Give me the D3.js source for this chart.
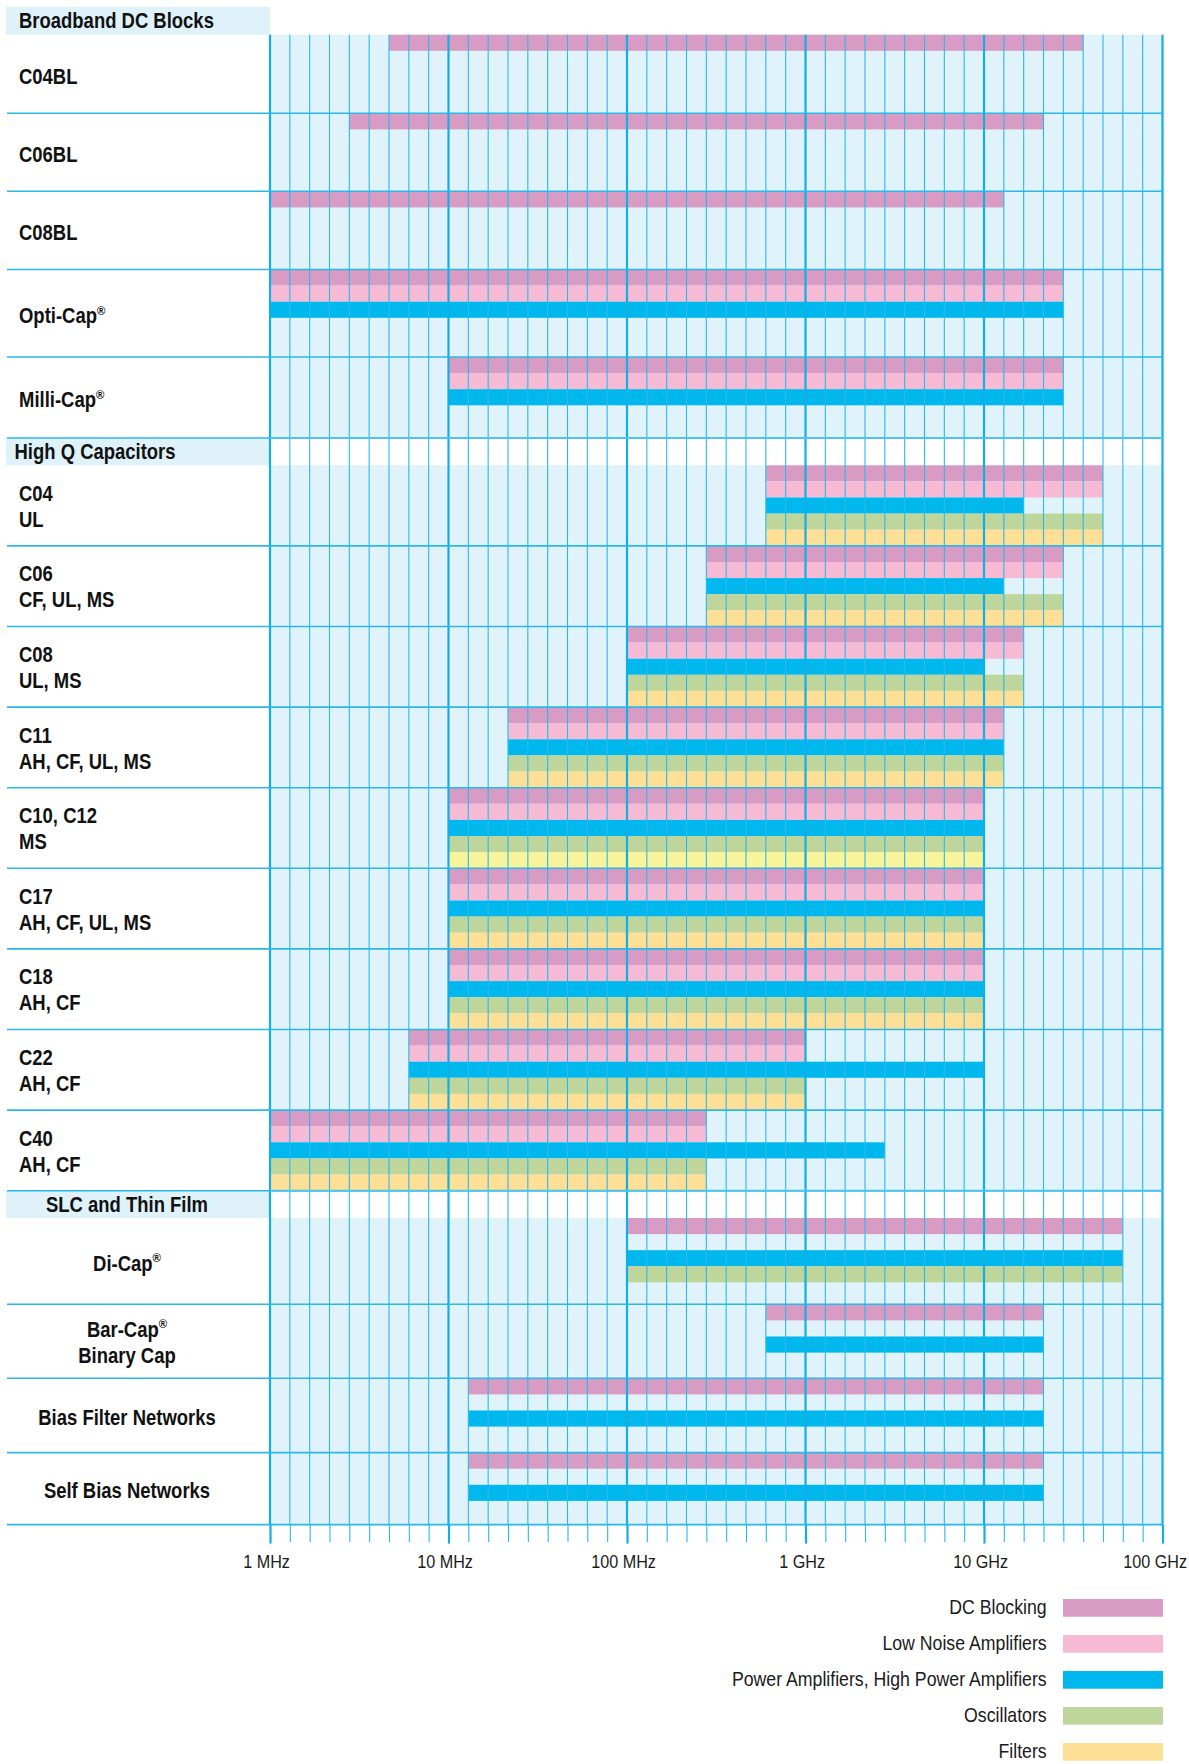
<!DOCTYPE html>
<html><head><meta charset="utf-8">
<script src="https://cdn.jsdelivr.net/npm/d3@7"></script>
<style>
body{margin:0;background:#fff;}
svg{display:block;}
text{font-family:"Liberation Sans","Arimo",Arial,sans-serif;}
</style></head><body>
<svg id="chart" width="1189" height="1764"></svg>
<script>
// ---------------- DATA ----------------
const sections = ["Broadband DC Blocks", "High Q Capacitors", "SLC and Thin Film"];
const products = [
  "C04BL", "C06BL", "C08BL", "Opti-Cap®", "Milli-Cap®",
  "C04\nUL", "C06\nCF, UL, MS", "C08\nUL, MS", "C11\nAH, CF, UL, MS", "C10, C12\nMS",
  "C17\nAH, CF, UL, MS", "C18\nAH, CF", "C22\nAH, CF", "C40\nAH, CF",
  "Di-Cap®", "Bar-Cap®\nBinary Cap", "Bias Filter Networks", "Self Bias Networks"
];
const productSection = [0,0,0,0,0, 1,1,1,1,1,1,1,1,1, 2,2,2,2];
const applications = ["DC Blocking", "Low Noise Amplifiers", "Power Amplifiers, High Power Amplifiers", "Oscillators", "Filters"];
const appColors = ["#d89cc4", "#f6bad4", "#00b8ed", "#bed69c", "#fedf96"];
// frequency ranges in MHz [from, to]; null = not listed
const dcBlocking  = [[7,60000],[5,40000],[1,20000],[1,50000],[10,50000],
  [800,70000],[500,50000],[100,30000],[40,20000],[10,10000],[10,10000],[10,10000],[8,1000],[1,500],
  [100,80000],[800,40000],[20,40000],[20,40000]];
const lowNoise    = [null,null,null,[1,50000],[10,50000],
  [800,70000],[500,50000],[100,30000],[40,20000],[10,10000],[10,10000],[10,10000],[8,1000],[1,500],
  null,null,null,null];
const powerAmp    = [null,null,null,[1,50000],[10,50000],
  [800,30000],[500,20000],[100,10000],[40,20000],[10,10000],[10,10000],[10,10000],[8,10000],[1,5000],
  [100,80000],[800,40000],[20,40000],[20,40000]];
const oscillators = [null,null,null,null,null,
  [800,70000],[500,50000],[100,30000],[40,20000],[10,10000],[10,10000],[10,10000],[8,1000],[1,500],
  [100,80000],null,null,null];
const filters     = [null,null,null,null,null,
  [800,70000],[500,50000],[100,30000],[40,20000],[10,10000],[10,10000],[10,10000],[8,1000],[1,500],
  null,null,null,null];
const filterAltProducts = ["C10, C12\nMS"];
const filterAltColor = "#f7f49b";
const tickValuesMHz = [1, 10, 100, 1000, 10000, 100000];
const tickLabels = ["1 MHz", "10 MHz", "100 MHz", "1 GHz", "10 GHz", "100 GHz"];

// ---------------- LAYOUT ----------------
const plotLeft = 270, plotRight = 1162.5, labelLeft = 7;
const topY = 6.7;
const headerHeights = [28, 27.3, 27.3];
const rowHeights = [78.6, 78, 78.2, 87.5, 81,
  80.6, 80.6, 80.6, 80.6, 80.6, 80.6, 80.6, 80.6, 80.6,
  86.3, 74, 74.3, 72];
const slotH = 16.1;
const gridMinor = "#2ab9ea", gridMajor = "#12aee4";
const boldScale = 0.84, legendScale = 0.886, axisScale = 0.87;

const svg = d3.select("#chart");

// x: linear within each decade (as in the reference grid)
const x = d3.scaleLinear()
  .domain(tickValuesMHz)
  .range(tickValuesMHz.map((d, i) => plotLeft + i * (plotRight - plotLeft) / (tickValuesMHz.length - 1)));

// build row layout
const headers = [], rows = [];
let y = topY;
sections.forEach((s, si) => {
  headers.push({name: s, si, y0: y, y1: y + headerHeights[si]});
  y += headerHeights[si];
  products.forEach((p, pi) => {
    if (productSection[pi] !== si) return;
    rows.push({name: p, pi, si, y0: y, y1: y + rowHeights[pi]});
    y += rowHeights[pi];
  });
});
const plotTop = headers[0].y1, plotBottom = y;

// bars
const series = [dcBlocking, lowNoise, powerAmp, oscillators, filters];
const bars = [];
series.forEach((arr, ai) => arr.forEach((r, pi) => {
  if (!r) return;
  const row = rows.find(d => d.pi === pi);
  let color = appColors[ai];
  if (ai === 4 && filterAltProducts.includes(products[pi])) color = filterAltColor;
  bars.push({ai, pi, from: r[0], to: r[1], y: row.y0 + ai * slotH, color});
}));

// header boxes in the label column
svg.append("g").selectAll("rect").data(headers).join("rect")
  .attr("x", labelLeft - 1).attr("y", d => d.y0)
  .attr("width", plotLeft - labelLeft + 1).attr("height", d => d.y1 - d.y0)
  .attr("fill", "#dff2fa");

// plot backgrounds for product rows
svg.append("g").selectAll("rect").data(rows).join("rect")
  .attr("x", plotLeft).attr("y", d => d.y0)
  .attr("width", plotRight - plotLeft).attr("height", d => d.y1 - d.y0)
  .attr("fill", "#e0f3fa");

// bars
svg.append("g").selectAll("rect").data(bars).join("rect")
  .attr("x", d => x(d.from)).attr("y", d => d.y)
  .attr("width", d => x(d.to) - x(d.from)).attr("height", slotH)
  .attr("fill", d => d.color);

// grid values
const gridValues = [];
for (let i = 0; i < tickValuesMHz.length - 1; i++)
  for (let m = 1; m <= 9; m++) gridValues.push(m * tickValuesMHz[i]);
gridValues.push(tickValuesMHz[tickValuesMHz.length - 1]);
const minorValues = gridValues.filter(v => !tickValuesMHz.includes(v));

// vertical grid lines
svg.append("g").selectAll("line").data(minorValues).join("line")
  .attr("x1", d => x(d)).attr("x2", d => x(d))
  .attr("y1", plotTop).attr("y2", plotBottom)
  .attr("stroke", gridMinor).attr("stroke-width", 1.1);
svg.append("g").selectAll("line").data(tickValuesMHz).join("line")
  .attr("x1", d => x(d)).attr("x2", d => x(d))
  .attr("y1", plotTop).attr("y2", plotBottom)
  .attr("stroke", gridMajor).attr("stroke-width", 2.2);

// horizontal separators
svg.append("g").selectAll("line").data(rows).join("line")
  .attr("x1", labelLeft).attr("x2", plotRight)
  .attr("y1", d => d.y1).attr("y2", d => d.y1)
  .attr("stroke", "#2ab8e8").attr("stroke-width", 1.6);
svg.append("g").selectAll("line").data(headers.slice(1)).join("line")
  .attr("x1", plotLeft).attr("x2", plotRight)
  .attr("y1", d => d.y0).attr("y2", d => d.y0)
  .attr("stroke", "#4cc4ec").attr("stroke-width", 2);

// axis
const axMinor = svg.append("g").attr("transform", `translate(0,${plotBottom})`)
  .call(d3.axisBottom(x).tickValues(minorValues).tickSize(17.5).tickFormat(""));
const axMajor = svg.append("g").attr("transform", `translate(0,${plotBottom})`)
  .call(d3.axisBottom(x).tickValues(tickValuesMHz).tickSize(19).tickPadding(11)
    .tickFormat((d, i) => tickLabels[i]));
[axMinor, axMajor].forEach(g => g.select(".domain").remove());
axMinor.selectAll(".tick line").attr("stroke", gridMinor).attr("stroke-width", 1.1);
axMajor.selectAll(".tick line").attr("stroke", gridMajor).attr("stroke-width", 2.2);
axMajor.selectAll(".tick text")
  .style("font-family", '"Liberation Sans",Arimo,Arial,sans-serif')
  .attr("font-size", 18.6).attr("fill", "#1a1a1a")
  .attr("dx", (d, i) => i === tickValuesMHz.length - 1 ? -9 : -4.5)
  .attr("transform", `scale(${axisScale},1)`);

// label helper (handles ® as superscript)
function addText(sel, str) {
  const parts = str.split("®");
  parts.forEach((p, i) => {
    if (p) sel.append("tspan").text(p);
    if (i < parts.length - 1)
      sel.append("tspan").text("®").attr("font-size", 13.5).attr("dy", -8.5);
  });
}
function boldText(xp, yp, anchor) {
  return svg.append("text")
    .attr("transform", `translate(${xp},${yp}) scale(${boldScale},1)`)
    .attr("text-anchor", anchor)
    .attr("font-size", 22).attr("font-weight", "bold").attr("fill", "#111");
}

// header texts
headers.forEach(h => {
  const centered = h.si === 2;
  boldText(centered ? 127 : (h.si === 0 ? 19 : 14.5), h.y0 + 21.3, centered ? "middle" : "start")
    .text(h.name);
});

// row labels
rows.forEach(r => {
  const lines = r.name.split("\n");
  const c = (r.y0 + r.y1) / 2;
  const centered = r.si === 2;
  const base = lines.length === 1 ? [c + 9.8] : [c - 4.8, c + 21.2];
  lines.forEach((ln, i) => {
    addText(boldText(centered ? 127 : 19, base[i], centered ? "middle" : "start"), ln);
  });
});

// legend
const lg = svg.append("g").selectAll("g").data(applications).join("g")
  .attr("transform", (d, i) => `translate(0,${1599 + i * 36})`);
lg.append("rect").attr("x", 1063).attr("y", 0).attr("width", 100).attr("height", 17.7)
  .attr("fill", (d, i) => appColors[i]);
lg.append("text").attr("transform", `translate(1046.7,15) scale(${legendScale},1)`)
  .attr("text-anchor", "end")
  .attr("font-size", 20).attr("fill", "#1a1a1a").text(d => d);
</script>
</body></html>
